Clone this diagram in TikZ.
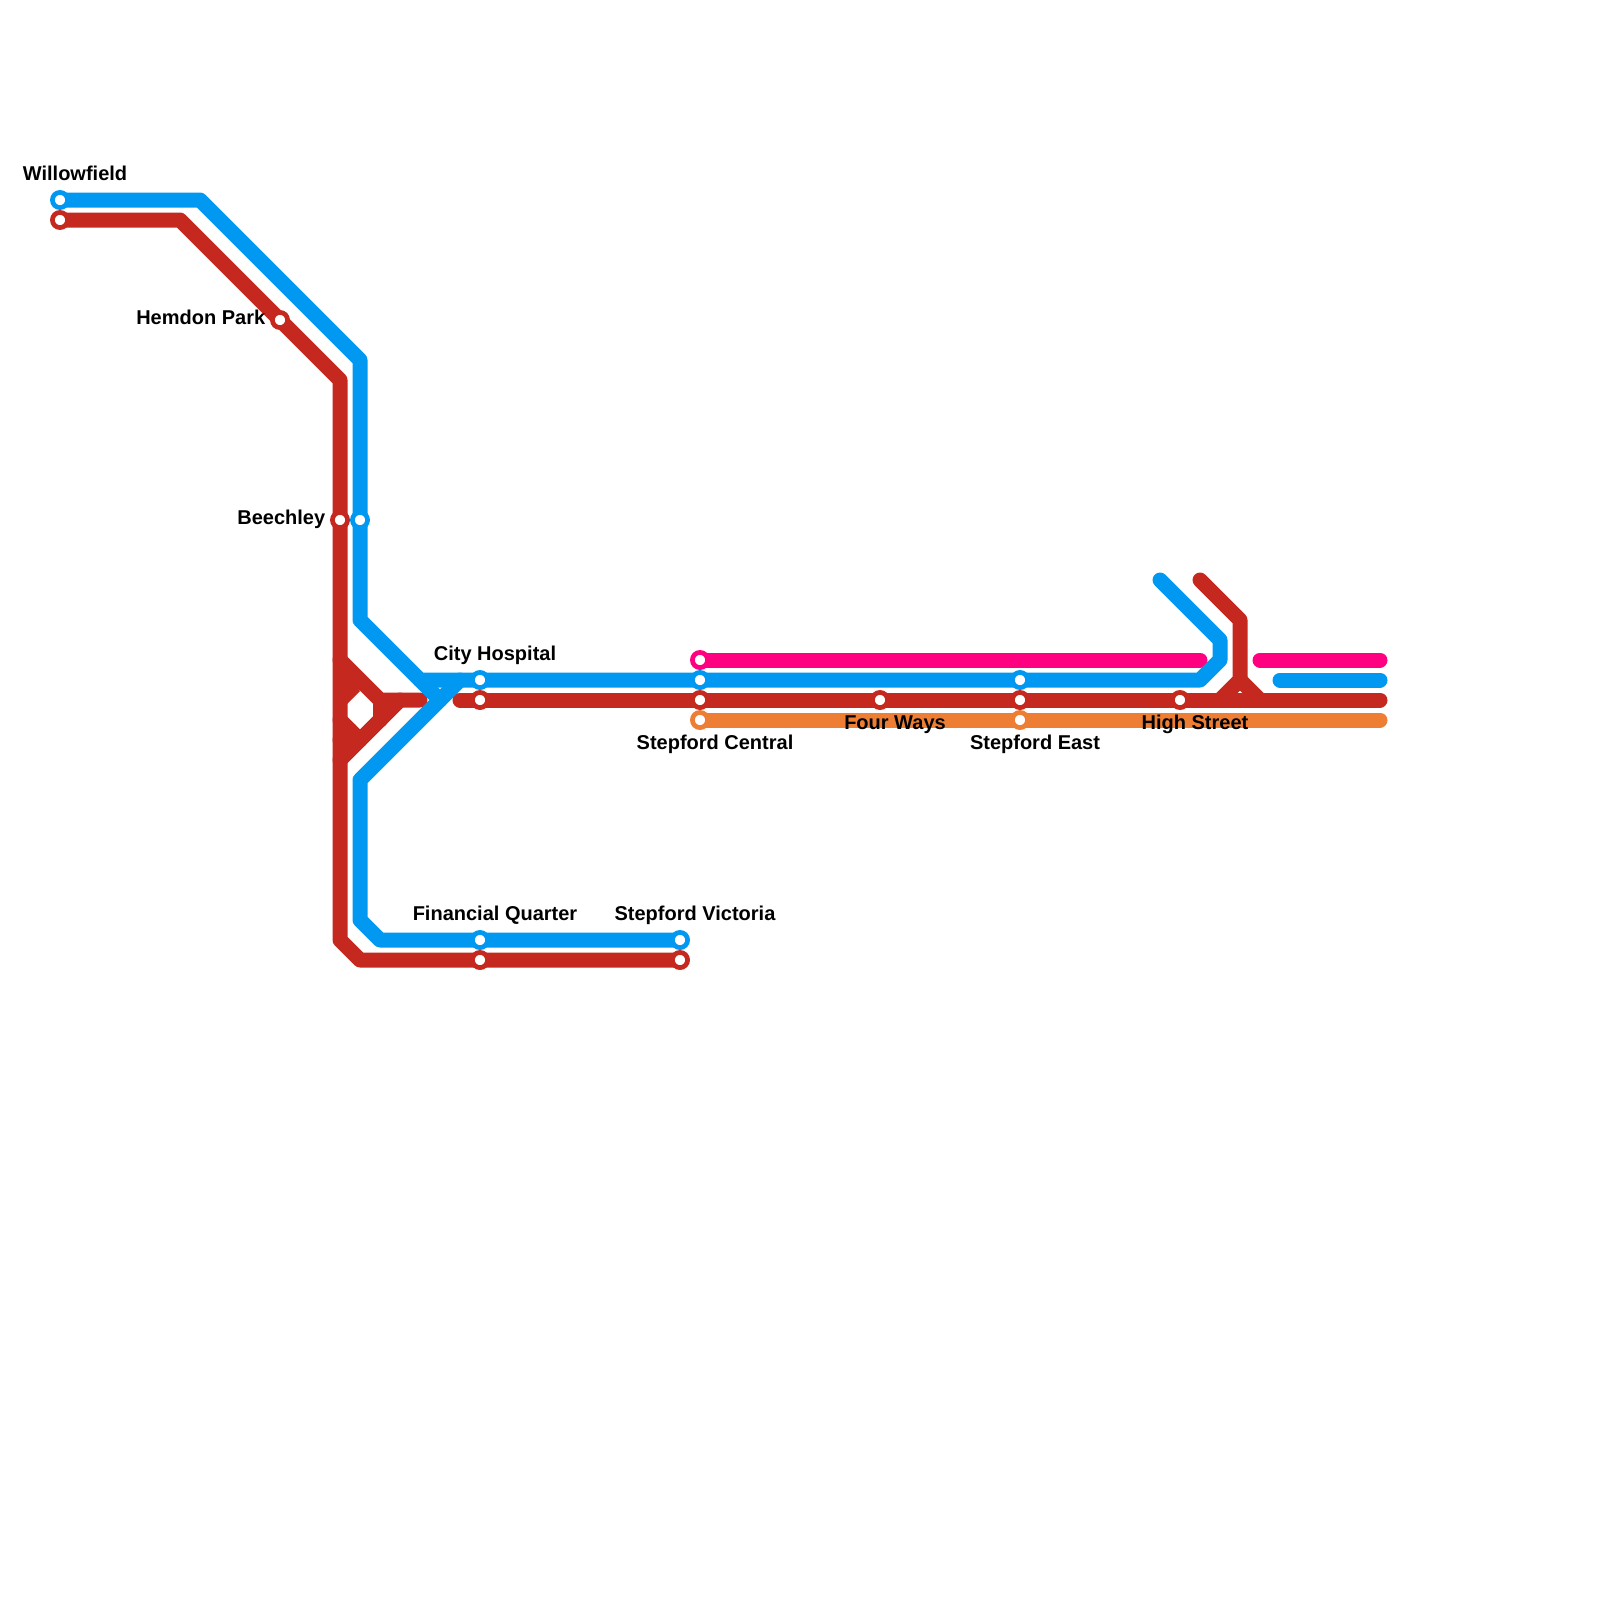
\documentclass[tikz,border=0pt]{standalone}
\usepackage{fontspec}
\setmainfont{Liberation Sans}
\definecolor{myblue}{HTML}{0098F0}
\definecolor{myred}{HTML}{C4281E}
\definecolor{mypink}{HTML}{FF0080}
\definecolor{myorange}{HTML}{EE7E33}

\begin{document}
\begin{tikzpicture}[
    x=0.5pt, y=-0.5pt,
    font=\bfseries\fontsize{10pt}{12pt}\selectfont,
    % Line styles
    track/.style={line width=7.5pt, line cap=round, line join=round},
    % Station styles
    stop/.style={circle, fill=white, line width=2.35pt, minimum size=7.6pt, inner sep=0pt},
    % Label styles
    nameabove/.style={inner sep=0pt, anchor=base, xshift=7.5pt, yshift=9.9pt},
    namebelow/.style={inner sep=0pt, anchor=base, xshift=7.5pt, yshift=-14.9pt},
    nameleft/.style={inner sep=0pt, anchor=base east, xshift=-7.2pt, yshift=-2.3pt}
]
\useasboundingbox (0,0) rectangle (1600,1600);

% -- Station positions --
\coordinate (willowB) at (60,200);
\coordinate (willowR) at (60,220);
\coordinate (hemdon) at (280,320);
\coordinate (beechR) at (340,520);
\coordinate (beechB) at (360,520);
\coordinate (cityB) at (480,680);
\coordinate (cityR) at (480,700);
\coordinate (finB) at (480,940);
\coordinate (finR) at (480,960);
\coordinate (victB) at (680,940);
\coordinate (victR) at (680,960);
\coordinate (centP) at (700,660);
\coordinate (centB) at (700,680);
\coordinate (centR) at (700,700);
\coordinate (centO) at (700,720);
\coordinate (four) at (880,700);
\coordinate (eastB) at (1020,680);
\coordinate (eastR) at (1020,700);
\coordinate (eastO) at (1020,720);
\coordinate (high) at (1180,700);

% -- Line ends and bends --
\coordinate (endO) at (1380,720);
\coordinate (endR) at (1380,700);
\coordinate (gapRa) at (420,700);
\coordinate (gapRb) at (460,700);
\coordinate (endPa) at (1200,660);
\coordinate (startPb) at (1260,660);
\coordinate (endPb) at (1380,660);
\coordinate (startBb) at (1280,680);
\coordinate (endBb) at (1380,680);

% -- Orange and pink --
\draw[track, myorange] (centO) -- (endO);
\draw[track, mypink] (centP) -- (endPa);
\draw[track, mypink] (startPb) -- (endPb);

% -- Red line --
\draw[track, myred] (willowR) -- (180,220) -- (hemdon) -- (340,380) -- (beechR) -- (340,940) -- (360,960) -- (finR) -- (victR);
\draw[track, myred] (340,660) -- (380,700) -- (gapRa);
\draw[track, myred] (340,760) -- (400,700);
\draw[track, myred] (380,700) -- (380,720);
\draw[track, myred] (340,720) -- (360,740);
\draw[track, myred] (340,740) -- (350,730);
% Filled wedge above the hole of the knot
\fill[myred] (340,665) -- (360,691) -- (345,706) -- (340,706) -- cycle;
\draw[track, myred] (gapRb) -- (cityR) -- (centR) -- (four) -- (eastR) -- (high) -- (endR);
% Spur at the east end
\draw[track, myred] (1200,580) -- (1240,620) -- (1240,680) -- (1220,700);
\draw[track, myred] (1240,680) -- (1260,700);

% -- Blue line --
\draw[track, myblue] (willowB) -- (200,200) -- (360,360) -- (beechB) -- (360,620) -- (420,680) -- (cityB) -- (centB) -- (eastB) -- (1200,680) -- (1220,660) -- (1220,640) -- (1160,580);
\draw[track, myblue] (460,680) -- (360,780) -- (360,920) -- (380,940) -- (finB) -- (victB);
\draw[track, myblue] (420,680) -- (440,700);
\draw[track, myblue] (startBb) -- (endBb);

% -- Stations --
\node[stop, draw=myblue] (willowBst) at (willowB) {};
\node[stop, draw=myred] (willowRst) at (willowR) {};
\node[stop, draw=myred] (hemdonst) at (hemdon) {};
\node[stop, draw=myred] (beechRst) at (beechR) {};
\node[stop, draw=myblue] (beechBst) at (beechB) {};
\node[stop, draw=myblue] (cityBst) at (cityB) {};
\node[stop, draw=myred] (cityRst) at (cityR) {};
\node[stop, draw=myblue] (finBst) at (finB) {};
\node[stop, draw=myred] (finRst) at (finR) {};
\node[stop, draw=myblue] (victBst) at (victB) {};
\node[stop, draw=myred] (victRst) at (victR) {};
\node[stop, draw=mypink] (centPst) at (centP) {};
\node[stop, draw=myorange] (centOst) at (centO) {};
\node[stop, draw=myblue] (centBst) at (centB) {};
\node[stop, draw=myred] (centRst) at (centR) {};
\node[stop, draw=myred] (fourst) at (four) {};
\node[stop, draw=myorange] (eastOst) at (eastO) {};
\node[stop, draw=myblue] (eastBst) at (eastB) {};
\node[stop, draw=myred] (eastRst) at (eastR) {};
\node[stop, draw=myred] (highst) at (high) {};

% -- Names --
\node[nameabove] (willowname) at (willowB) {Willowfield};
\node[nameleft] (hemdonname) at (hemdon) {Hemdon Park};
\node[nameleft] (beechname) at (beechR) {Beechley};
\node[nameabove] (cityname) at (cityB) {City Hospital};
\node[nameabove] (finname) at (finB) {Financial Quarter};
\node[nameabove] (victname) at (victB) {Stepford Victoria};
\node[namebelow] (centname) at (centO) {Stepford Central};
\node[namebelow] (fourname) at (four) {Four Ways};
\node[namebelow] (eastname) at (eastO) {Stepford East};
\node[namebelow] (highname) at (high) {High Street};

\end{tikzpicture}
\end{document}
